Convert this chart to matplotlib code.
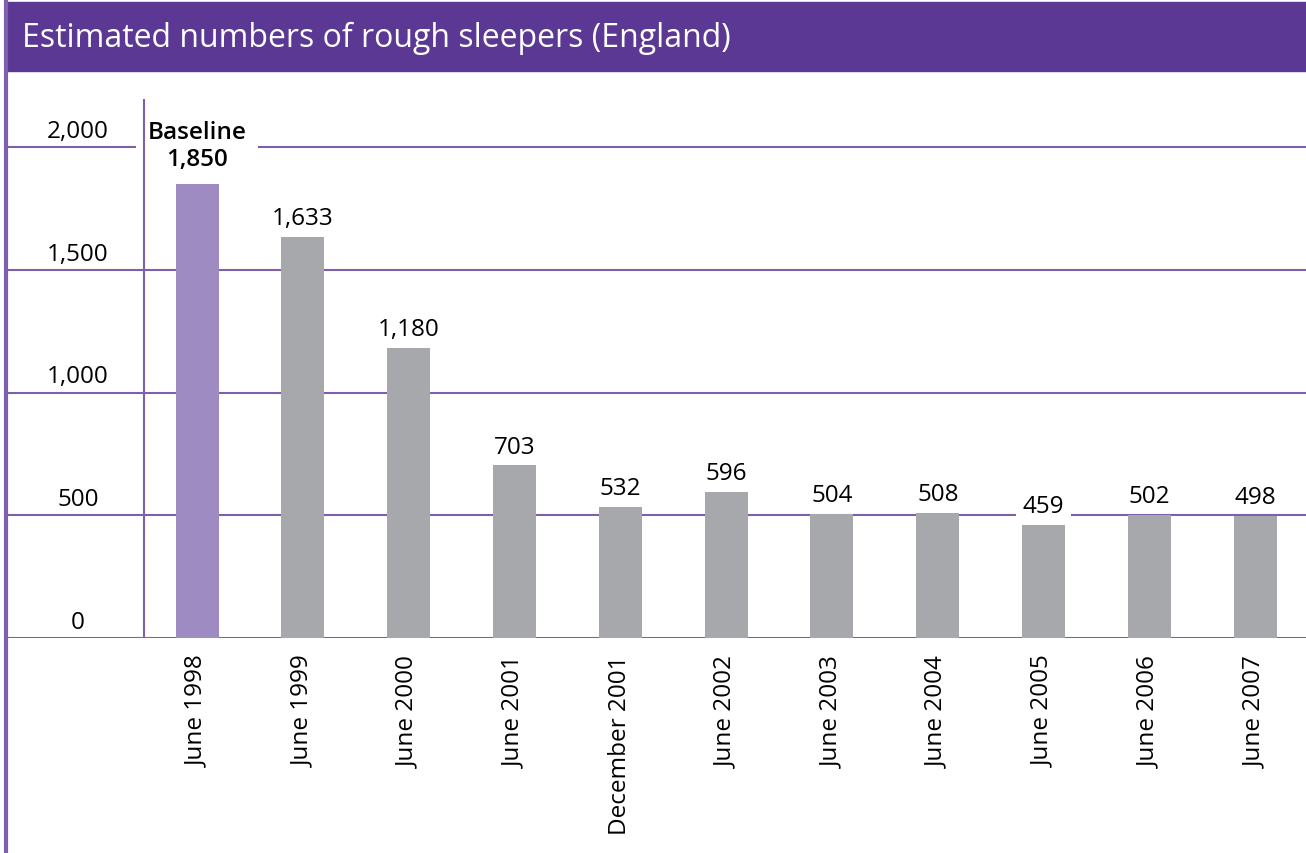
import matplotlib.pyplot as plt
from matplotlib.patches import Rectangle

plt.rcParams['font.family'] = ['Open Sans', 'DejaVu Sans']

periods = ['June 1998', 'June 1999', 'June 2000', 'June 2001', 'December 2001',
           'June 2002', 'June 2003', 'June 2004', 'June 2005', 'June 2006', 'June 2007']
sleepers = [1850, 1633, 1180, 703, 532, 596, 504, 508, 459, 502, 498]
y_ticks = [0, 500, 1000, 1500, 2000]
y_labels = ['0', '500', '1,000', '1,500', '2,000']

banner = '#5B3893'
line_col = '#7E5FAE'
base_col = '#9E8BC2'
bar_col = '#A7A8AB'

W, H = 1306, 854
fig = plt.figure(figsize=(W / 100, H / 100), dpi=100)

# title banner and left frame edge
fig.patches.append(Rectangle((5 / W, 1 - 72 / H), 1 - 5 / W, 69 / H,
                             transform=fig.transFigure, color=banner, zorder=0))
fig.text(22 / W, 1 - 38 / H, 'Estimated numbers of rough sleepers (England)',
         color='white', fontsize=23, va='center', ha='left')
fig.lines.append(plt.Line2D([6 / W, 6 / W], [0, 1 - 3 / H], transform=fig.transFigure,
                            color=line_col, lw=3))

ax = fig.add_axes([5 / W, (H - 639) / H, (W - 5) / W, 539 / H])
ax.set_ylim(0, 2196)
ax.set_xlim(-1.815, 10.48)
for s in ax.spines.values():
    s.set_visible(False)
ax.set_yticks([])

fs = 17.5
for t, lab in zip(y_ticks, y_labels):
    ax.axhline(t, color=line_col, lw=1.5, zorder=1)
    ax.annotate(lab, (-1.125, t), xytext=(0, 3), textcoords='offset points',
                ha='center', va='bottom', fontsize=fs)

# vertical axis line sits above the label boxes
ax.plot([-0.5, -0.5], [0, 2196], color=line_col, lw=1.5, zorder=5)

x = range(len(periods))
colors = [base_col] + [bar_col] * (len(periods) - 1)
ax.bar(x, sleepers, width=0.406, color=colors, zorder=2)

for i, v in enumerate(sleepers):
    if i == 0:
        ax.annotate(f'Baseline\n{v:,}', (i, v), xytext=(0, 9), textcoords='offset points',
                    ha='center', va='bottom', fontsize=fs, fontweight='semibold',
                    linespacing=1.2, zorder=3,
                    bbox=dict(facecolor='white', edgecolor='none', pad=8))
    else:
        # boxed labels break the gridline when the bar falls below it
        bb = dict(facecolor='white', edgecolor='none', pad=5) if v < 480 else None
        ax.annotate(f'{v:,}', (i, v), xytext=(0, 5), textcoords='offset points',
                    ha='center', va='bottom', fontsize=fs, zorder=3, bbox=bb)

ax.set_xticks(list(x))
ax.set_xticklabels(periods, rotation=90, fontsize=fs, va='top', ha='center')
ax.tick_params(axis='x', length=0, pad=12)

fig.savefig('out.png', dpi=100, facecolor='white')
